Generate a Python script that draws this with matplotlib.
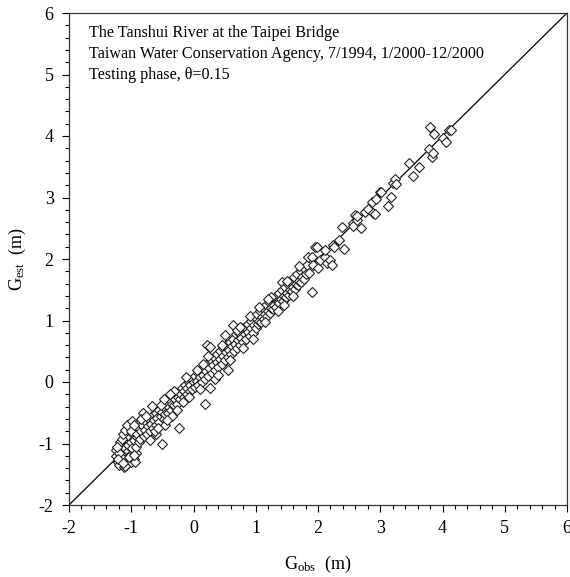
import matplotlib
matplotlib.use("Agg")
import matplotlib.pyplot as plt
from matplotlib.ticker import MultipleLocator

plt.rcParams['font.family'] = ['Liberation Serif', 'DejaVu Serif']
plt.rcParams['mathtext.fontset'] = 'custom'
plt.rcParams['mathtext.rm'] = 'Liberation Serif'
plt.rcParams['mathtext.it'] = 'Liberation Serif:italic'

# (G_obs, G_est) pairs
low_cluster = [(-1.22,-1.30),(-1.20,-1.35),(-1.18,-1.25),(-1.22,-1.18),(-1.20,-1.10),(-1.17,-1.05),
    (-1.15,-1.15),(-1.13,-1.20),(-1.12,-1.00),(-1.10,-1.08),(-1.10,-1.28),(-1.08,-0.95),(-1.06,-1.12),
    (-1.05,-1.02),(-1.05,-1.30),(-1.03,-0.90),(-1.02,-1.18),(-1.00,-0.98),(-0.98,-1.08),(-0.97,-0.85),
    (-0.95,-1.25),(-0.95,-0.95),(-1.25,-1.20),(-1.24,-1.10),(-1.18,-0.98),(-1.15,-0.92),(-1.13,-0.85),
    (-1.10,-0.78),(-1.07,-0.70),(-1.12,-1.38),(-1.08,-1.35),(-1.00,-1.30),(-0.93,-1.15),(-0.92,-1.05),
    (-0.90,-0.90),(-0.88,-0.98),(-0.94,-0.80),(-1.16,-1.22),(-1.19,-1.15),(-1.21,-1.25),(-0.99,-0.64),
    (-1.10,-1.37),(-0.94,-1.30),(-1.23,-1.05),(-1.14,-1.32),(-1.04,-1.22),(-0.96,-1.18),(-1.01,-0.80)]
mid_low = [(-0.90,-0.85),(-0.88,-0.75),(-0.86,-0.92),(-0.84,-0.80),(-0.82,-0.70),(-0.81,-0.51),
    (-0.80,-0.88),(-0.78,-0.78),(-0.76,-0.65),(-0.75,-0.85),(-0.73,-0.72),(-0.71,-0.60),(-0.70,-0.80),
    (-0.68,-0.68),(-0.67,-0.39),(-0.66,-0.55),(-0.65,-0.75),(-0.63,-0.62),(-0.61,-0.50),(-0.60,-0.70),
    (-0.58,-0.58),(-0.56,-0.45),(-0.55,-0.65),(-0.53,-0.55),(-0.51,-1.00),(-0.50,-0.48),(-0.48,-0.60),
    (-0.46,-0.42),(-0.45,-0.52),(-0.43,-0.35),(-0.41,-0.50),(-0.40,-0.40),(-0.38,-0.30),(-0.36,-0.45),
    (-0.35,-0.35),(-0.33,-0.22),(-0.31,-0.38),(-0.30,-0.28),(-0.28,-0.18),(-0.26,-0.35),(-0.25,-0.25),
    (-0.24,-0.75),(-0.22,-0.15),(-0.21,-0.28),(-0.20,-0.20),(-0.18,-0.10),(-0.16,-0.25),(-0.15,-0.15),
    (-0.13,-0.05),(-0.11,-0.20),(-0.10,-0.10),(-0.08,0.00),(-0.06,-0.15),(-0.05,-0.05),(-0.03,0.05),
    (-0.02,-0.12),(0.00,0.00),(-0.70,-0.95),(-0.60,-0.85),(-0.45,-0.70),(-0.35,-0.55),(-0.95,-0.70),
    (-0.85,-0.60),(-0.77,-0.55),(-0.62,-0.80),(-0.52,-0.38),(-0.42,-0.62),(-0.32,-0.15),(-0.27,-0.45),
    (-0.17,-0.32),(-0.12,0.08),(-0.07,-0.25),(-0.57,-0.75),(-0.47,-0.28),(-0.37,-0.20)]
mid = [(0.02,0.10),(0.03,-0.08),(0.05,0.02),(0.07,0.15),(0.08,-0.05),(0.10,0.08),(0.12,0.20),
    (0.13,0.00),(0.15,0.12),(0.17,0.25),(0.18,-0.36),(0.18,0.05),(0.20,0.18),(0.21,0.60),(0.22,0.30),
    (0.24,0.10),(0.25,0.22),(0.27,0.57),(0.27,-0.10),(0.28,0.35),(0.30,0.15),(0.32,0.28),(0.33,0.40),
    (0.35,0.20),(0.37,0.33),(0.38,0.45),(0.40,0.25),(0.42,0.38),(0.43,0.50),(0.45,0.30),(0.47,0.42),
    (0.48,0.55),(0.50,0.35),(0.52,0.48),(0.53,0.60),(0.55,0.20),(0.55,0.40),(0.57,0.52),(0.58,0.65),
    (0.60,0.45),(0.62,0.58),(0.63,0.70),(0.65,0.50),(0.67,0.62),(0.68,0.78),(0.70,0.55),(0.72,0.68),
    (0.73,0.80),(0.75,0.60),(0.77,0.72),(0.78,0.88),(0.80,0.65),(0.82,0.78),(0.83,0.90),(0.85,0.70),
    (0.87,0.82),(0.88,0.95),(0.90,0.75),(0.92,0.88),(0.93,1.00),(0.95,0.80),(0.97,0.92),(0.98,1.05),
    (1.00,0.88),(0.63,0.93),(0.51,0.76),(0.05,0.20),(0.10,-0.12),(0.23,0.42),(0.35,0.05),(0.45,0.60),
    (0.58,0.35),(0.70,0.85),(0.80,0.55),(0.90,1.08),(0.40,0.12),(0.15,0.30),(0.75,0.90),(0.95,0.70)]
mid_high = [(1.02,1.10),(1.03,0.95),(1.05,1.00),(1.07,1.15),(1.08,0.98),(1.10,1.05),(1.12,1.20),
    (1.13,1.02),(1.15,1.10),(1.17,1.25),(1.18,1.08),(1.20,1.15),(1.22,1.30),(1.23,1.12),(1.25,1.20),
    (1.27,1.35),(1.28,1.18),(1.30,1.25),(1.32,1.40),(1.33,1.22),(1.35,1.30),(1.37,1.45),(1.38,1.28),
    (1.40,1.35),(1.42,1.63),(1.42,1.50),(1.43,1.32),(1.45,1.40),(1.47,1.55),(1.48,1.38),(1.50,1.45),
    (1.52,1.60),(1.53,1.42),(1.55,1.50),(1.57,1.65),(1.58,1.48),(1.60,1.55),(1.62,1.70),(1.63,1.52),
    (1.65,1.60),(1.67,1.75),(1.68,1.58),(1.70,1.65),(1.72,1.80),(1.73,1.62),(1.75,1.70),(1.77,1.85),
    (1.78,1.68),(1.80,1.75),(1.82,1.90),(1.85,1.78),(1.90,1.47),(1.05,1.22),(1.15,0.98),(1.25,1.38),
    (1.35,1.15),(1.50,1.65),(1.60,1.40),(1.70,1.88),(1.20,1.35),(1.45,1.25)]
high = [(1.84,2.04),(1.90,2.04),(1.92,1.90),(1.95,2.20),(1.98,2.20),(2.00,1.85),(2.03,1.98),
    (2.11,2.04),(2.11,2.15),(2.14,1.93),(2.19,1.98),(2.22,1.90),(2.24,2.23),(2.25,2.20),(2.34,2.31),
    (2.38,2.52),(2.41,2.17),(2.56,2.58),(2.57,2.53),(2.59,2.72),(2.62,2.63),(2.62,2.70),(2.69,2.50),
    (2.75,2.77),(2.81,2.81),(2.86,2.93),(2.89,2.74),(2.92,2.73),(2.93,2.97),(3.00,3.09),(3.02,3.09),
    (3.12,2.86),(3.17,3.01),(3.21,3.23),(3.24,3.30),(3.26,3.22),(3.46,3.56),(3.53,3.35),(3.62,3.50),
    (3.78,3.79),(3.83,3.66),(3.85,3.73),(3.80,4.15),(3.86,4.03),(4.01,3.97),(4.05,3.91),(4.10,4.10),
    (4.13,4.09)]

points = low_cluster + mid_low + mid + mid_high + high
g_obs = [p[0] for p in points]
g_est = [p[1] for p in points]

x_ticks = [-2, -1, 0, 1, 2, 3, 4, 5, 6]
y_ticks = [-2, -1, 0, 1, 2, 3, 4, 5, 6]
annotation_lines = ["The Tanshui River at the Taipei Bridge",
                    "Taiwan Water Conservation Agency, 7/1994, 1/2000-12/2000",
                    "Testing phase, \u03b8=0.15"]

fig = plt.figure(figsize=(5.70, 5.77), dpi=100)
ax = fig.add_axes([69/570, 1-505/577, (567-69)/570, (505-13)/577])

ax.plot([-2, 6], [-2, 6], color='black', lw=0.9, zorder=1)
ax.plot(g_obs, g_est, linestyle='none', marker='D', markersize=4.6,
        markerfacecolor='white', markeredgecolor='#222222', markeredgewidth=0.8, zorder=2)

ax.set_xlim(-2, 6)
ax.set_ylim(-2, 6)
ax.set_xticks(x_ticks)
ax.set_yticks(y_ticks)
ax.set_xticklabels([str(t) for t in x_ticks])
ax.set_yticklabels([str(t) for t in y_ticks])
ax.xaxis.set_minor_locator(MultipleLocator(0.2))
ax.yaxis.set_minor_locator(MultipleLocator(0.2))
ax.tick_params(which='major', direction='out', length=5, width=0.8, labelsize=13, pad=6)
ax.tick_params(which='minor', direction='out', length=3, width=0.8)
for s in ax.spines.values():
    s.set_linewidth(0.9)
    s.set_color('#333333')

ax.set_xlabel(r'G$_{\rm obs}$  (m)', fontsize=13, labelpad=12)
ax.set_ylabel(r'G$_{\rm est}$  (m)', fontsize=13, labelpad=8)

for i, line in enumerate(annotation_lines):
    ax.text(0.04, 0.975 - i*0.042, line, transform=ax.transAxes, fontsize=11.6,
            va='top', ha='left')

fig.savefig('out.png', dpi=100)
